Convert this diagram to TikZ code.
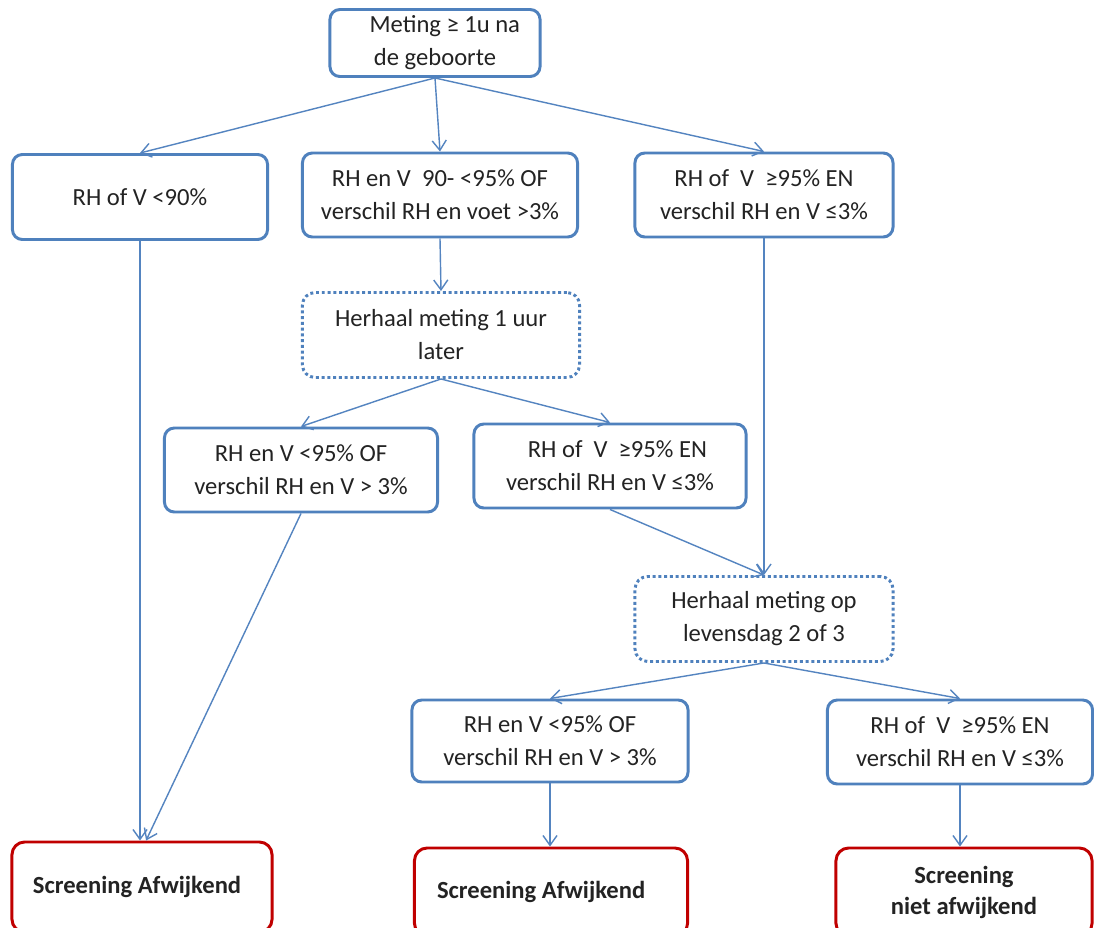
\documentclass[tikz,border=0pt]{standalone}
\usepackage{fontspec}
\setmainfont{Carlito}
\usetikzlibrary{arrows.meta}
\definecolor{boxblue}{RGB}{79,129,189}
\definecolor{lineblue}{RGB}{84,132,192}
\definecolor{boxred}{RGB}{192,0,0}
\definecolor{txt}{RGB}{35,35,35}

\begin{document}
\begin{tikzpicture}[x=0.025cm, y=-0.025cm,
	every node/.style={font=\fontsize{17.5}{23.5}\selectfont, text=txt, align=center, inner sep=2pt},
	box/.style={draw=boxblue, line width=2.1pt, rounded corners=7pt},
	waitbox/.style={draw=boxblue, line width=2.1pt, dotted, rounded corners=9pt},
	endbox/.style={draw=boxred, line width=2.1pt, rounded corners=9pt, font=\fontsize{17.5}{22}\selectfont\bfseries},
	flow/.style={draw=lineblue, line width=1pt, -{Straight Barb[length=7pt,width=10pt]}}]
	\clip (0,0) rectangle (1094,928);
	\fill[white] (0,0) rectangle (1094,928);
	\node[box, minimum width=5.25cm, minimum height=1.675cm] (start) at (435,43) {\hspace*{0.8em}Meting ≥ 1u na\\de geboorte};
	\node[box, minimum width=6.375cm, minimum height=2.125cm] (low) at (140,197) {RH of V <90\%};
	\node[box, minimum width=6.875cm, minimum height=2.1cm] (mid) at (440,195) {RH en V\ \ 90- <95\% OF\\verschil RH en voet >3\%};
	\node[box, minimum width=6.45cm, minimum height=2.1cm] (high) at (764,195) {RH of\ \ V\ \ ≥95\% EN\\verschil RH en V ≤3\%};
	\node[waitbox, minimum width=6.925cm, minimum height=2.125cm] (again) at (441,335) {Herhaal meting 1 uur\\later};
	\node[box, minimum width=6.825cm, minimum height=2.1cm] (againlow) at (301,470) {RH en V <95\% OF\\verschil RH en V > 3\%};
	\node[box, minimum width=6.8cm, minimum height=2.1cm] (againhigh) at (610,466) {\hspace*{0.6em}RH of\ \ V\ \ ≥95\% EN\\verschil RH en V ≤3\%};
	\node[waitbox, minimum width=6.45cm, minimum height=2.125cm] (day) at (764,619) {Herhaal meting op\\levensdag 2 of 3};
	\node[box, minimum width=6.9cm, minimum height=2.05cm] (daylow) at (550,741) {RH en V <95\% OF\\verschil RH en V > 3\%};
	\node[box, minimum width=6.625cm, minimum height=2.1cm] (dayhigh) at (960,742) {RH of\ \ V\ \ ≥95\% EN\\verschil RH en V ≤3\%};
	\node[endbox, minimum width=6.5cm, minimum height=2.25cm] (abn) at (142,887) {Screening Afwijkend\hspace*{0.4em}};
	\node[endbox, minimum width=6.825cm, minimum height=2.2cm] (abntwo) at (551,892) {Screening Afwijkend\hspace*{0.8em}};
	\node[endbox, minimum width=6.4cm, minimum height=2.2cm] (ok) at (964,892) {Screening\\niet afwijkend};
	% connectors
	\draw[flow] (start.south) -- (low.north);
	\draw[flow] (start.south) -- (mid.north);
	\draw[flow] (start.south) -- (high.north);
	\draw[flow] (mid.south) -- (again.north);
	\draw[flow] (again.south) -- (againlow.north);
	\draw[flow] (again.south) -- (againhigh.north);
	\draw[flow] (low.south) -- (low.south |- abn.north);
	\draw[flow] (againlow.south) -- (abn.85);
	\draw[flow] (high.south) -- (high.south |- day.north);
	\draw[flow] (againhigh.south) -- (day.north);
	\draw[flow] (day.south) -- (daylow.north);
	\draw[flow] (day.south) -- (dayhigh.north);
	\draw[flow] (daylow.south) -- (daylow.south |- abntwo.north);
	\draw[flow] (dayhigh.south) -- (dayhigh.south |- ok.north);
\end{tikzpicture}
\end{document}
